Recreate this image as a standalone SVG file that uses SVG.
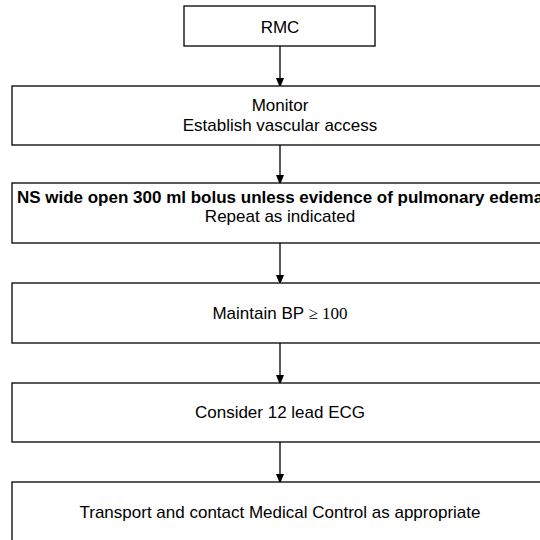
<svg xmlns="http://www.w3.org/2000/svg" width="540" height="540" viewBox="0 0 540 540">
  <style>
    .box { fill: #ffffff; stroke: #000000; stroke-width: 1.3; }
    .t { font-family: "Liberation Sans", Arial, sans-serif; font-size: 17px; fill: #000000; text-anchor: middle; }
    .b { font-weight: bold; }
    .serif { font-family: "Liberation Serif", "Times New Roman", serif; }
    .conn { stroke: #000000; stroke-width: 1.3; fill: none; }
  </style>
  <defs>
    <marker id="arrow" markerWidth="10" markerHeight="12" refX="10" refY="5" orient="auto" markerUnits="userSpaceOnUse" viewBox="0 0 12 10">
      <path d="M0,0 L12,5 L0,10 Z" fill="#000000"/>
    </marker>
  </defs>
  <rect x="0" y="0" width="540" height="540" fill="#ffffff"/>

  <g id="connectors">
    <line class="conn" x1="280" y1="46" x2="280" y2="86" marker-end="url(#arrow)"/>
    <line class="conn" x1="280" y1="145" x2="280" y2="183" marker-end="url(#arrow)"/>
    <line class="conn" x1="280" y1="243" x2="280" y2="283" marker-end="url(#arrow)"/>
    <line class="conn" x1="280" y1="343" x2="280" y2="383" marker-end="url(#arrow)"/>
    <line class="conn" x1="280" y1="442" x2="280" y2="482" marker-end="url(#arrow)"/>
  </g>

  <g id="node-rmc">
    <rect class="box" x="184" y="6" width="191" height="40"/>
    <text class="t" x="280" y="33">RMC</text>
  </g>

  <g id="node-monitor">
    <rect class="box" x="12" y="86" width="536" height="59"/>
    <text class="t" x="280" y="111">Monitor</text>
    <text class="t" x="280" y="131">Establish vascular access</text>
  </g>

  <g id="node-ns">
    <rect class="box" x="12" y="183" width="536" height="60"/>
    <text class="t b" x="280" y="203">NS wide open 300 ml bolus unless evidence of pulmonary edema</text>
    <text class="t" x="280" y="222">Repeat as indicated</text>
  </g>

  <g id="node-bp">
    <rect class="box" x="12" y="283" width="536" height="60"/>
    <text class="t" x="280" y="319">Maintain BP <tspan class="serif">≥ 100</tspan></text>
  </g>

  <g id="node-ecg">
    <rect class="box" x="12" y="383" width="536" height="59"/>
    <text class="t" x="280" y="418">Consider 12 lead ECG</text>
  </g>

  <g id="node-transport">
    <rect class="box" x="12" y="482" width="536" height="70"/>
    <text class="t" x="280" y="518">Transport and contact Medical Control as appropriate</text>
  </g>
</svg>
